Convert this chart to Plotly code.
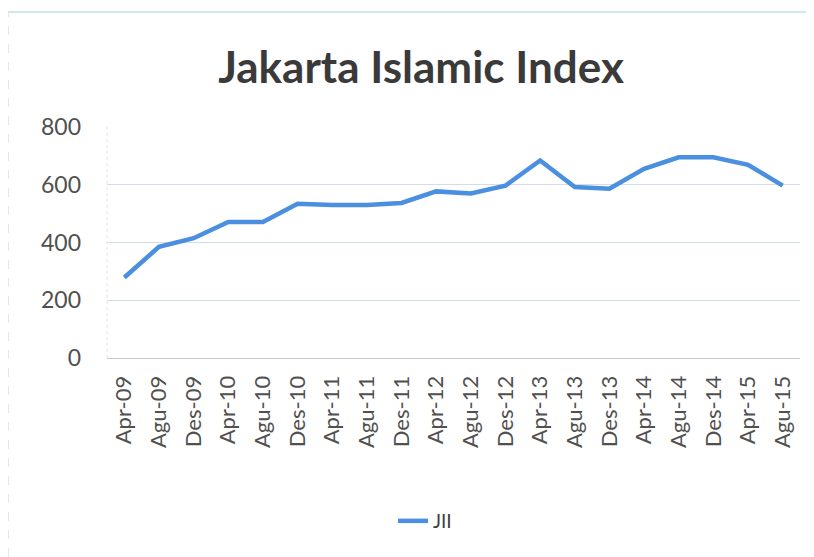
import plotly.graph_objects as go

categories = ["Apr-09", "Agu-09", "Des-09", "Apr-10", "Agu-10", "Des-10", "Apr-11", "Agu-11",
              "Des-11", "Apr-12", "Agu-12", "Des-12", "Apr-13", "Agu-13", "Des-13", "Apr-14",
              "Agu-14", "Des-14", "Apr-15", "Agu-15"]
jii = [279, 385, 415, 471, 471, 534, 530, 530, 537, 577, 570, 597, 684, 592, 586, 655,
       695, 695, 669, 597]
y_ticks = [0, 200, 400, 600, 800]

FONT = "Lato"
W, H = 806, 549          # page offset of 8px puts the figure at (8,8)
L, T, R, B = 99, 119, 14, 199
PW, PH = W - L - R, H - T - B

fig = go.Figure()
fig.add_trace(go.Scatter(
    x=categories, y=jii, mode="lines", name="JII",
    line=dict(color="#4a8fe0", width=4.5),
))

fig.update_layout(
    width=W, height=H,
    margin=dict(l=L, r=R, t=T, b=B),
    paper_bgcolor="white", plot_bgcolor="white",
    title=dict(text="<b>Jakarta Islamic Index</b>", x=(421 - 8) / W, xanchor="center",
               y=1 - 60 / H, yanchor="middle", yref="container",
               font=dict(family=FONT, size=44, color="#3a3a3a")),
    showlegend=True,
    legend=dict(orientation="h", x=(425 - 8) / W, xanchor="center", xref="container",
                y=1 - 513 / H, yanchor="middle", yref="container",
                font=dict(family=FONT, size=19, color="#404040")),
    xaxis=dict(type="category", tickangle=-90, showgrid=False,
               range=[-0.5, len(categories) - 0.5],
               tickfont=dict(family=FONT, size=22, color="#505050"),
               ticks="", ticklabelstandoff=8,
               showline=True, linecolor="#c8c8d0", linewidth=1),
    yaxis=dict(range=[0, 800], tickvals=y_ticks, showgrid=True,
               gridcolor="#d4dbea", gridwidth=1, zeroline=False,
               tickfont=dict(family=FONT, size=23, color="#505050"),
               ticklabelstandoff=25, showline=False),
)

# outer chart border (light dashed)
fig.add_shape(type="line", xref="paper", yref="paper",
              x0=(0 - L) / PW, x1=(0 - L) / PW, y0=(PH + T - H) / PH, y1=(PH + T - 4) / PH,
              line=dict(color="#c5cde0", width=1, dash="dash"))
fig.add_shape(type="line", xref="paper", yref="paper",
              x0=(0 - L) / PW, x1=(W - L) / PW, y0=(PH + T - 4) / PH, y1=(PH + T - 4) / PH,
              line=dict(color="#bfe3e0", width=1.5))
# faint left edge of plot area
fig.add_shape(type="line", xref="paper", yref="paper", x0=0, x1=0, y0=0, y1=1,
              line=dict(color="#dde2ee", width=1, dash="dot"))

fig.write_html("out.html")
